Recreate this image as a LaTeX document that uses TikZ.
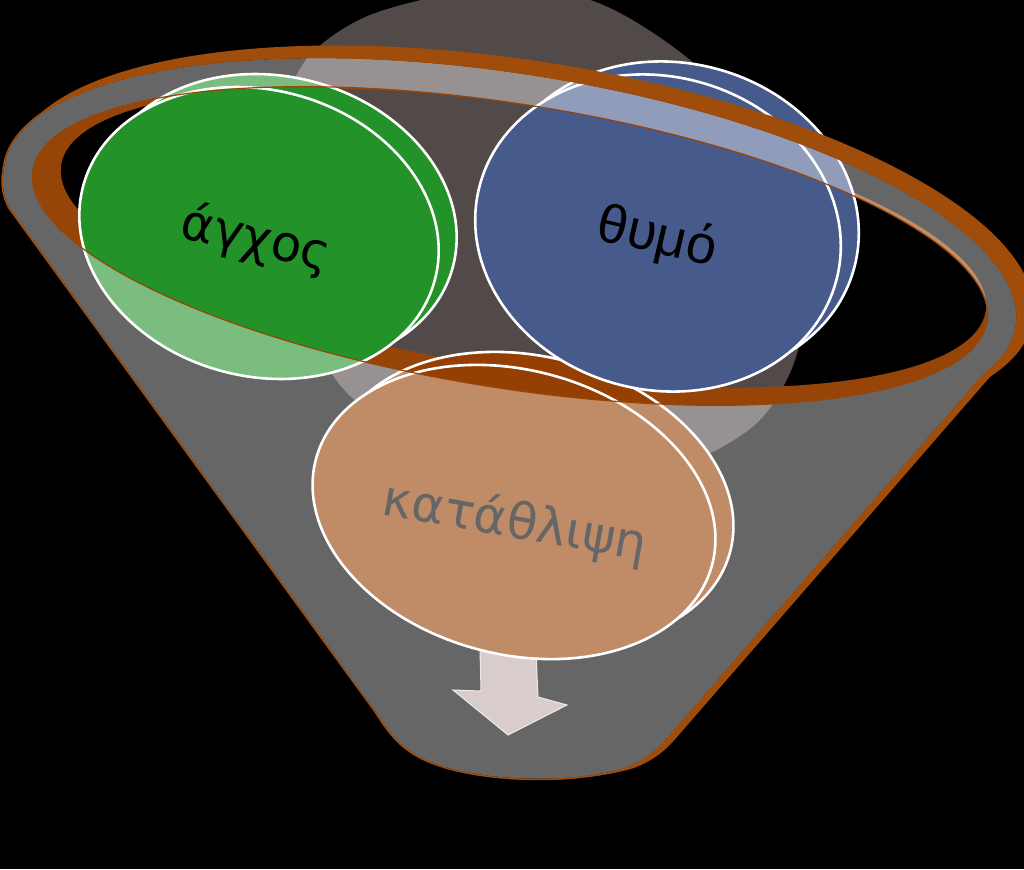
\documentclass[tikz,border=0pt]{standalone}
\usepackage{fontspec}
\setmainfont{DejaVu Sans}
\newfontfamily\arialgreek{Liberation Sans}
\usetikzlibrary{shapes.geometric}
\definecolor{backcol}{RGB}{82,74,72}
\definecolor{woodcol}{RGB}{150,68,8}
\definecolor{rimcol}{RGB}{160,76,10}
\definecolor{greencol}{RGB}{34,146,41}
\definecolor{bluecol}{RGB}{70,90,140}
\definecolor{tancol}{RGB}{150,63,3}
\definecolor{arrowcol}{RGB}{190,170,170}
% rim ellipses, drawn inside a tilted scope
\newcommand{\rimoutpath}{(522,237) ellipse (516 and 178)}
\newcommand{\rimgraypath}{(510,246) ellipse (512 and 172)}
\newcommand{\rimholepath}{(510,246) ellipse (483 and 142)}
\newcommand{\rimdeeppath}{(522,236) ellipse (468 and 132)}
\newcommand{\conepath}{(3,175) .. controls (2,188) and (4,196) .. (9,207) -- (376,712)
      .. controls (392,737) and (405,755) .. (445,767)
      .. controls (500,783) and (580,782) .. (625,768) .. controls (645,760) and (656,751) .. (668,737)
      -- (1013,340) -- cycle}
\newcommand{\wholepath}{(-400,-400) rectangle (1424,1269)}
\tikzset{
  bubble/.style={ellipse, draw=white, line width=2.6pt, inner sep=0pt},
  bubbletext/.style={font=\fontsize{50}{54}\selectfont, text=black, inner sep=0pt},
  tilt/.style={rotate around={-9:(510,246)}},
  untilt/.style={rotate around={9:(510,246)}},
}

\begin{document}
\begin{tikzpicture}[x=1pt,y=-1pt]
  \useasboundingbox (0,0) rectangle (1024,869);
  \fill[black] (0,0) rectangle (1024,869);

  % oval behind the bubbles
  \fill[backcol] plot[smooth cycle] coordinates {(470,-8) (590,0) (690,60) (765,145) (800,250)
    (798,350) (760,420) (690,462) (600,478) (500,468) (410,440) (340,385) (295,300) (278,200)
    (284,110) (310,55) (370,15)};

  % inner wall of the rim
  \fill[woodcol, even odd rule, tilt] \rimholepath \rimdeeppath;

  \fill[arrowcol, draw=white!60!arrowcol, line width=1pt] (480,650) -- (536,652) -- (538,697)
    -- (567,705) -- (508,735) -- (453,690) -- (481,691) -- cycle;

  \foreach \name/\x/\y/\w/\h/\ang/\col in {anxiety/259/233/364/286/-15/greencol,
      depression/514/512/410/284/-15/tancol, anger/658/233/369/313/-15/bluecol} {
    \node[bubble, fill=\col, minimum width=\w pt, minimum height=\h pt, rotate=\ang]
      (\name-back) at (\x+18,\y-13) {};
    \node[bubble, fill=\col, minimum width=\w pt, minimum height=\h pt, rotate=\ang]
      (\name) at (\x,\y) {};
  }

  \node[bubbletext, rotate=-13] (anxiety-text) at (256,240) {άγχος};
  \node[bubbletext, font=\arialgreek\fontsize{54}{58}\selectfont, rotate=-13] (anger-text) at (657,238) {θυμό};
  \node[bubbletext, rotate=-10] (depression-text) at (515,523) {κατάθλιψη};

  % glass of the funnel
  \begin{scope}[transparency group, opacity=0.4]
    \begin{scope}[tilt, even odd rule]
      \clip \wholepath \rimholepath;
      \fill[white] \rimgraypath;
      \begin{scope}[untilt]
        \fill[white] \conepath;
      \end{scope}
    \end{scope}
  \end{scope}

  % brown edge of the funnel
  \begin{scope}[tilt, even odd rule]
    \clip \wholepath \rimgraypath;
    \begin{scope}[untilt]
      \clip \wholepath \conepath;
      \fill[rimcol, xshift=9pt] \conepath;
      \draw[rimcol, line width=3pt] \conepath;
      \begin{scope}[tilt]
        \fill[rimcol] \rimoutpath;
        \draw[rimcol, line width=3pt] \rimgraypath;
      \end{scope}
    \end{scope}
  \end{scope}

  \draw[woodcol, line width=1.2pt, tilt] \rimholepath;
\end{tikzpicture}
\end{document}
